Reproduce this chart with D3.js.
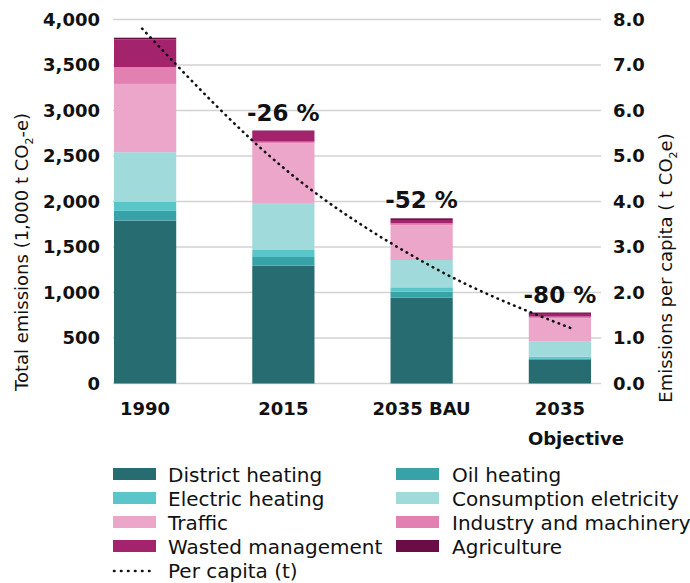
<!DOCTYPE html>
<html><head><meta charset="utf-8">
<script src="https://cdn.jsdelivr.net/npm/d3@7"></script>
<style>
html,body{margin:0;padding:0;background:#fff;}
text{font-family:"DejaVu Sans",sans-serif;fill:#111;}
</style></head>
<body>
<svg id="chart" width="690" height="583"></svg>
<script>
const categories = ["1990", "2015", "2035 BAU", "2035"];
const seriesNames = ["District heating","Oil heating","Electric heating","Consumption eletricity","Traffic","Industry and machinery","Wasted management","Agriculture"];
const districtHeating = [1790, 1295, 943, 265];
const oilHeating = [107, 95, 66, 5];
const electricHeating = [99, 77, 48, 25];
const consumptionElectricity = [546, 517, 300, 170];
const traffic = [750, 656, 383, 250];
const industry = [185, 18, 20, 20];
const wasted = [305, 117, 37, 30];
const agriculture = [18, 5, 18, 15];
const perCapita = [7.8, 4.7, 2.6, 1.2];
const changeLabels = ["", "-26 %", "-52 %", "-80 %"];
const leftTicks = [0, 500, 1000, 1500, 2000, 2500, 3000, 3500, 4000];
const rightTicks = [0, 1, 2, 3, 4, 5, 6, 7, 8];
const colors = ["#276c70","#37a2a8","#5ac6ca","#a1dadb","#eba6c9","#e280b2","#a3236c","#6a0d46"];

const seriesValues = [districtHeating, oilHeating, electricHeating, consumptionElectricity, traffic, industry, wasted, agriculture];
const rows = categories.map((c, i) => {
  const r = {cat: c};
  seriesNames.forEach((s, j) => r[s] = seriesValues[j][i]);
  return r;
});

const svg = d3.select("#chart");
const x = d3.scaleBand().domain(categories).range([114, 591]).paddingInner(0.55).paddingOuter(0);
const y = d3.scaleLinear().domain([0, 4000]).range([383.5, 19.5]);
const y2 = d3.scaleLinear().domain([0, 8]).range([383.5, 19.5]);
const gridX0 = 113, gridX1 = 601;

// gridlines
svg.append("g").selectAll("line").data(leftTicks).join("line")
  .attr("x1", gridX0).attr("x2", gridX1)
  .attr("y1", d => y(d)).attr("y2", d => y(d))
  .attr("stroke", "#d2d2d2").attr("stroke-width", 1.5);

// left axis
const leftAxis = d3.axisLeft(y).tickValues(leftTicks).tickSize(0).tickPadding(0).tickFormat(d3.format(","));
const gl = svg.append("g").attr("transform", "translate(100,0)").call(leftAxis);
gl.select(".domain").remove();
gl.selectAll("text").style("font-family", "DejaVu Sans").style("font-weight", "bold").style("font-size", "18px").attr("fill", "#111");

// right axis
const rightAxis = d3.axisRight(y2).tickValues(rightTicks).tickSize(0).tickPadding(0).tickFormat(d3.format(".1f"));
const gr = svg.append("g").attr("transform", "translate(613,0)").call(rightAxis);
gr.select(".domain").remove();
gr.selectAll("text").style("font-family", "DejaVu Sans").style("font-weight", "bold").style("font-size", "18px").attr("fill", "#111");

// bars
const stack = d3.stack().keys(seriesNames)(rows);
svg.append("g").selectAll("g").data(stack).join("g")
  .attr("fill", (d, i) => colors[i])
  .selectAll("rect").data(d => d).join("rect")
  .attr("x", d => x(d.data.cat))
  .attr("width", x.bandwidth())
  .attr("y", d => y(d[1]))
  .attr("height", d => y(d[0]) - y(d[1]));

// percent labels
const totals = rows.map(r => d3.sum(seriesNames, s => r[s]));
svg.append("g").selectAll("text").data(categories).join("text")
  .attr("x", d => x(d) + x.bandwidth() / 2)
  .attr("y", (d, i) => y(totals[i]) - 10)
  .attr("text-anchor", "middle")
  .style("font-weight", "bold").style("font-size", "23px")
  .text((d, i) => changeLabels[i]);

// per capita line
const xp = d3.scalePoint().domain(categories)
  .range([x(categories[0]) + x.bandwidth() / 2 - 3, x(categories[3]) + x.bandwidth() / 2 + 13]);
const line = d3.line().x((d, i) => xp(categories[i])).y(d => y2(d)).curve(d3.curveMonotoneX);
svg.append("path").datum(perCapita).attr("d", line)
  .attr("fill", "none").attr("stroke", "#111").attr("stroke-width", 2.6)
  .attr("stroke-linecap", "round").attr("stroke-dasharray", "0.5 5.5");

// x labels
svg.append("g").selectAll("text").data(categories).join("text")
  .attr("x", d => x(d) + x.bandwidth() / 2)
  .attr("y", 415)
  .attr("text-anchor", "middle")
  .style("font-weight", "bold").style("font-size", "18px")
  .text(d => d);
svg.append("text").attr("x", x("2035") + x.bandwidth() / 2 - 32).attr("y", 445)
  .style("font-weight", "bold").style("font-size", "18px").text("Objective");

// axis titles
const lt = svg.append("text").attr("transform", "translate(28,252) rotate(-90)")
  .attr("text-anchor", "middle").style("font-size", "18px");
lt.append("tspan").text("Total emissions (1,000 t CO");
lt.append("tspan").attr("dy", 5).style("font-size", "11px").text("2");
lt.append("tspan").attr("dy", -5).text("-e)");

const rt = svg.append("text").attr("transform", "translate(672,268) rotate(-90)")
  .attr("text-anchor", "middle").style("font-size", "18px");
rt.append("tspan").text("Emissions per capita ( t CO");
rt.append("tspan").attr("dy", 5).style("font-size", "11px").text("2");
rt.append("tspan").attr("dy", -5).text("e)");

// legend
const legendItems = [
  {name: "District heating", col: 0, row: 0, type: "rect", color: colors[0]},
  {name: "Electric heating", col: 0, row: 1, type: "rect", color: colors[2]},
  {name: "Traffic", col: 0, row: 2, type: "rect", color: colors[4]},
  {name: "Wasted management", col: 0, row: 3, type: "rect", color: colors[6]},
  {name: "Per capita (t)", col: 0, row: 4, type: "line"},
  {name: "Oil heating", col: 1, row: 0, type: "rect", color: colors[1]},
  {name: "Consumption eletricity", col: 1, row: 1, type: "rect", color: colors[3]},
  {name: "Industry and machinery", col: 1, row: 2, type: "rect", color: colors[5]},
  {name: "Agriculture", col: 1, row: 3, type: "rect", color: colors[7]}
];
const colX = [113, 396];
const rowY = r => 474 + r * 24;
const lg = svg.append("g").selectAll("g").data(legendItems).join("g")
  .attr("transform", d => `translate(${colX[d.col]},${rowY(d.row)})`);
lg.filter(d => d.type === "rect").append("rect")
  .attr("x", 0).attr("y", -6).attr("width", 43).attr("height", 12).attr("fill", d => d.color);
lg.filter(d => d.type === "line").append("line")
  .attr("x1", 1).attr("x2", 43).attr("y1", 1).attr("y2", 1)
  .attr("stroke", "#111").attr("stroke-width", 2.6).attr("stroke-linecap", "round").attr("stroke-dasharray", "0.5 6.5");
lg.append("text").attr("x", d => d.col === 0 ? 55 : 56).attr("y", 7.5)
  .style("font-size", "20px").text(d => d.name);
</script>
</body></html>
